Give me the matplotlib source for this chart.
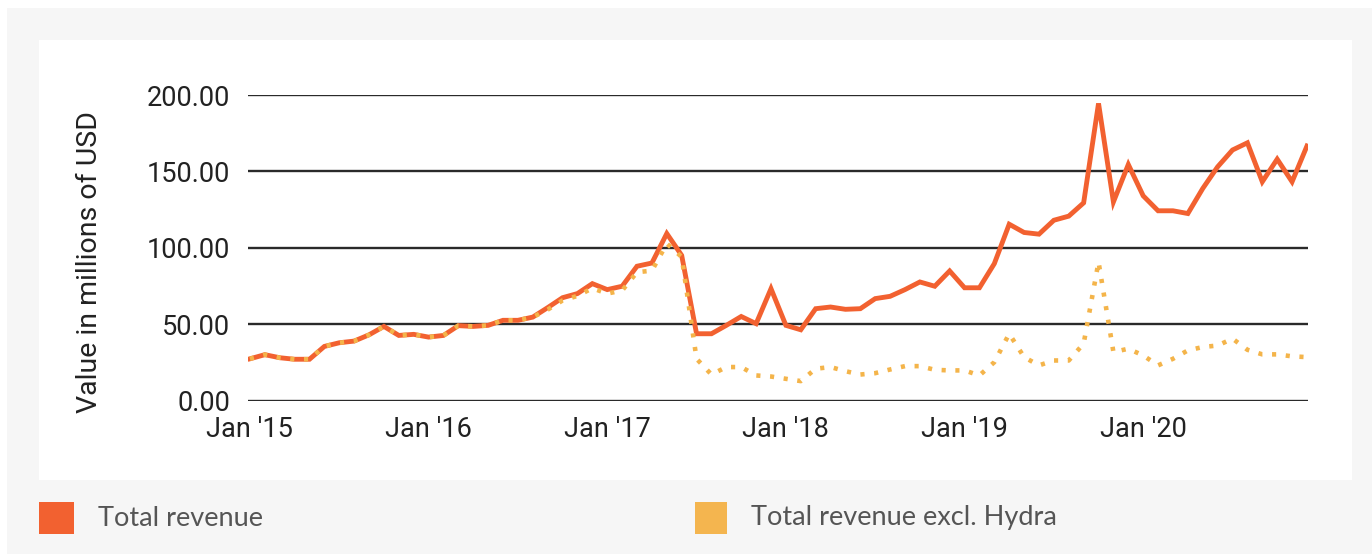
import matplotlib.pyplot as plt
from matplotlib.patches import Rectangle
import numpy as np

# monthly revenue, Jan 2015 - Dec 2020 (millions of USD)
months = np.arange(72)
tick_pos = [0, 12, 24, 36, 48, 60]
tick_labels = ["Jan '15", "Jan '16", "Jan '17", "Jan '18", "Jan '19", "Jan '20"]

total = [27.3, 30.0, 28.0, 27.0, 27.0, 35.4, 37.8, 38.9, 43.0, 48.5, 42.6, 43.3,
         41.5, 42.6, 49.0, 48.5, 49.2, 52.5, 52.5, 54.6, 60.8, 67.3, 70.0, 76.5,
         72.6, 74.8, 87.9, 90.0, 109.3, 95.0, 43.7, 43.7, 49.2, 55.0, 50.3, 73.2,
         49.2, 46.3, 60.1, 61.2, 59.7, 60.1, 66.7, 68.2, 72.6, 77.6, 74.8, 84.8,
         73.8, 73.8, 89.6, 115.4, 110.0, 108.9, 118.0, 120.7, 129.4, 194.5, 130.0, 154.5,
         134.0, 124.2, 124.2, 122.4, 138.8, 153.0, 164.0, 168.7, 143.2, 158.0, 143.2, 166.6]

excl_hydra = [27.3, 30.0, 28.0, 27.0, 27.0, 35.4, 37.8, 38.9, 43.0, 48.5, 42.6, 43.3,
              41.5, 42.6, 49.0, 48.5, 49.2, 52.5, 52.5, 54.6, 59.5, 65.5, 68.5, 73.5,
              70.0, 72.0, 84.0, 85.0, 102.7, 94.0, 27.3, 17.0, 21.9, 21.9, 16.4, 15.7,
              14.2, 12.7, 20.8, 21.9, 19.2, 17.0, 17.9, 20.3, 22.5, 22.5, 20.1, 19.7,
              19.7, 16.4, 25.1, 43.7, 28.4, 23.0, 26.2, 26.2, 37.2, 90.7, 31.7, 33.9,
              29.5, 23.0, 27.3, 32.8, 35.0, 36.0, 40.5, 33.2, 30.2, 30.2, 28.9, 28.4]

RED = '#f26130'
YELLOW = '#f4b44a'
W, H = 1372, 554

fig = plt.figure(figsize=(W / 100, H / 100), dpi=100)
fig.patch.set_facecolor('#f6f6f6')

# white strips along the top and left border, white chart panel
fig.add_artist(Rectangle((0, 1 - 8 / H), 1, 8 / H, transform=fig.transFigure,
                         facecolor='white', edgecolor='none', zorder=0))
fig.add_artist(Rectangle((0, 0), 7 / W, 1, transform=fig.transFigure,
                         facecolor='white', edgecolor='none', zorder=0))
fig.add_artist(Rectangle((39 / W, 1 - 480 / H), (1352 - 39) / W, (480 - 40) / H,
                         transform=fig.transFigure, facecolor='white',
                         edgecolor='none', zorder=0))

ax = fig.add_axes([248 / W, 1 - 400.5 / H, (1308 - 248) / W, (400.5 - 95) / H])
ax.set_facecolor('none')
ax.set_xlim(-0.13, 71.07)
ax.set_ylim(0, 200)
for s in ax.spines.values():
    s.set_visible(False)

for v in [0, 50, 100, 150, 200]:
    ax.axhline(v, color='#2a2a2a', lw=1.7, zorder=1)

ax.plot(months, total, color=RED, lw=3.5, solid_joinstyle='miter', zorder=3)
ax.plot(months, excl_hydra, color=YELLOW, lw=3.3, linestyle=(0, (0.9, 2.1)),
        dash_capstyle='butt', zorder=4)

ax.set_yticks([0, 50, 100, 150, 200])
ax.set_yticklabels(['%.2f' % v for v in [0, 50, 100, 150, 200]])
ax.set_xticks(tick_pos)
ax.set_xticklabels(tick_labels)
ax.tick_params(length=0, labelsize=19.5, labelcolor='#222222')
ax.tick_params(axis='y', pad=13)
ax.tick_params(axis='x', pad=11)
for lab in ax.get_xticklabels() + ax.get_yticklabels():
    lab.set_family('Roboto')

fig.text(90 / W, 1 - 262 / H, 'Value in millions of USD', fontsize=20.5,
         family='Roboto', color='#222222', rotation=90, ha='center', va='center')

# legend below the chart panel
fig.add_artist(Rectangle((39 / W, 1 - 534 / H), 35 / W, 32 / H,
                         transform=fig.transFigure, facecolor=RED, edgecolor='none'))
fig.add_artist(Rectangle((695 / W, 1 - 534 / H), 32 / W, 32 / H,
                         transform=fig.transFigure, facecolor='#f4b54f', edgecolor='none'))
fig.text(98 / W, 1 - 518 / H, 'Total revenue', fontsize=19.5, family='Lato',
         color='#555555', va='center')
fig.text(751 / W, 1 - 518 / H, 'Total revenue excl. Hydra', fontsize=19.5,
         family='Lato', color='#555555', va='center')

fig.savefig('out.png', dpi=100, facecolor=fig.get_facecolor())
